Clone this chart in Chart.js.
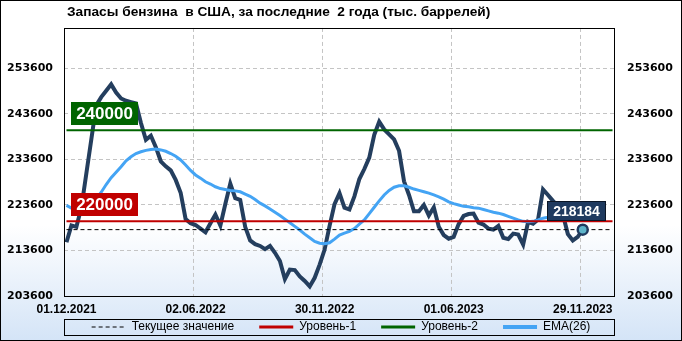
<!DOCTYPE html>
<html><head><meta charset="utf-8">
<script src="https://cdn.jsdelivr.net/npm/chart.js@4"></script>
<style>html,body{margin:0;padding:0;background:#fff}canvas{display:block}</style>
</head><body>
<canvas id="c" width="682" height="341"></canvas>
<script>
const titleText = 'Запасы бензина  в США, за последние  2 года (тыс. баррелей)';
const tickLabels = ['01.12.2021', '02.06.2022', '30.11.2022', '01.06.2023', '29.11.2023'];
const tickIndexes = [0, 26, 52, 78, 104];
const slotCount = 111;
const yTicks = [203600, 213600, 223600, 233600, 243600, 253600];
const seriesNames = ['Текущее значение', 'Уровень-1', 'Уровень-2', 'EMA(26)'];
const level1 = 220000;
const level2 = 240000;
const stocks = [
  215400, 219100, 218800, 223000, 230500, 238000, 245500, 247300, 248700, 250100,
  248300, 247000, 246500, 246200, 245900, 241600, 237900, 238800, 236300, 233200,
  232100, 231200, 229100, 226300, 220500, 219600, 219200, 218400, 217600, 219600,
  221500, 219100, 223800, 228300, 225100, 224700, 218800, 215800, 215000, 214600,
  213900, 214600, 213100, 211300, 207300, 209400, 209300, 207900, 206900, 205700,
  207600, 210500, 213800, 219000, 223800, 226200, 223000, 222600, 225500, 229300,
  231500, 234000, 239000, 241900, 240200, 239100, 238000, 235500, 228800, 225800,
  222200, 222200, 223600, 221300, 223100, 218800, 217000, 216200, 216600, 219400,
  221200, 221600, 221700, 219700, 219300, 218400, 218200, 219000, 216400, 216100,
  217300, 217100, 214900, 219900, 219500, 220400, 227000, 225800, 224500, 223300,
  221500, 217200, 215800, 216600, 218184
];
const ema26 = [
  223500, 222900, 222600, 222600, 223000, 223800, 225000, 226400, 228100, 229600,
  230800, 232000, 233300, 234200, 234900, 235300, 235600, 235800, 235900, 235700,
  235400, 234900, 234300, 233500, 232400, 231200, 230200, 229500, 228700, 228200,
  227600, 227200, 227000, 226800, 226700, 226500, 226000, 225500, 224800, 224000,
  223400, 222700, 222000, 221300, 220500, 219700, 218900, 218100, 217200, 216400,
  215600, 215200, 215100, 215300, 216100, 217000, 217400, 217800, 218400, 219400,
  220300, 221700, 223100, 224500, 225800, 226800, 227500, 227800, 227800, 227500,
  227100, 226800, 226500, 226200, 225800, 225400, 224900, 224300, 223900, 223600,
  223300, 223200, 223000, 222900, 222600, 222300, 222000, 221800, 221500, 221100,
  220700, 220300, 220000, 219900, 220000, 220300, 220700, 220900, 221000, 221100,
  221100, 221000, 220800, 220700, 220600
];

const categories = Array.from({length: slotCount}, (_, i) => i);
const lastIndex = stocks.length - 1;
const currentValue = stocks[lastIndex];
const Y_MIN = 203600, Y_MAX = 262500;

const COL_MAIN = '#243e5e', COL_EMA = '#44a4f4', COL_RED = '#c00000', COL_GREEN = '#006400';

const legendStyles = [
  {color: '#000000', width: 1, dash: [4, 3]},
  {color: COL_RED, width: 3, dash: []},
  {color: COL_GREEN, width: 3, dash: []},
  {color: COL_EMA, width: 4, dash: []}
];

const bgPlugin = {
  id: 'bg',
  beforeDraw(chart) {
    const ctx = chart.ctx, w = chart.width, h = chart.height;
    const g = ctx.createLinearGradient(0, 0, 0, h);
    g.addColorStop(0, '#ffffff');
    g.addColorStop(0.66, '#ffffff');
    g.addColorStop(1, '#d4e4f7');
    ctx.save();
    ctx.fillStyle = g;
    ctx.fillRect(0, 0, w, h);
    ctx.restore();
  },
  afterLayout(chart) {
    if (chart.titleBlock) { chart.titleBlock.left = 67; chart.titleBlock.right = chart.width; }
    if (chart.legend) {
      const p = chart.options.plugins.legend.labels.padding;
      chart.legend.top = 327 - p - 6;
    }
  },
  afterDatasetsDraw(chart) {
    const ctx = chart.ctx, a = chart.chartArea, ys = chart.scales.y;
    ctx.save();
    ctx.strokeStyle = '#000';
    ctx.lineWidth = 1;
    ctx.strokeRect(Math.round(a.left) + 0.5, Math.round(a.top) + 0.5, Math.round(a.right - a.left) - 1, Math.round(a.bottom - a.top));
    const drawBox = (text, font, bg, border, x, yBottom, h, padX, alignRight) => {
      ctx.font = font;
      const tw = ctx.measureText(text).width;
      const w = Math.round(tw + padX * 2);
      const left = alignRight ? Math.round(x - w) : Math.round(x);
      const top = Math.round(yBottom - h);
      ctx.fillStyle = bg;
      ctx.fillRect(left, top, w, h);
      if (border) { ctx.strokeStyle = border; ctx.lineWidth = 1; ctx.strokeRect(left + 0.5, top + 0.5, w - 1, h - 1); }
      ctx.fillStyle = '#ffffff';
      ctx.textAlign = 'center';
      ctx.textBaseline = 'middle';
      ctx.fillText(text, left + w / 2, top + h / 2 + 1);
    };
    drawBox(String(level2), 'bold 17px "Liberation Sans"', COL_GREEN, null, a.left + 7, ys.getPixelForValue(level2) - 5, 23, 5, false);
    drawBox(String(level1), 'bold 17px "Liberation Sans"', COL_RED, null, a.left + 7, ys.getPixelForValue(level1) - 5, 23, 5, false);
    drawBox(String(currentValue), 'bold 14px "Liberation Sans"', '#1f3a5f', '#0b1626', a.right - 9, ys.getPixelForValue(currentValue) - 9, 20, 6, true);
    ctx.restore();
  },
  afterDraw(chart) {
    const ctx = chart.ctx, a = chart.chartArea;
    ctx.save();
    ctx.strokeStyle = '#000';
    ctx.lineWidth = 1;
    ctx.strokeRect(Math.round(a.left) + 0.5, 319.5, Math.round(a.right - a.left) - 1, 16);
    ctx.strokeRect(0.5, 0.5, chart.width - 1, chart.height - 1);
    ctx.restore();
  }
};

const yTickFont = {family: 'DejaVu Sans', size: 11, weight: 'bold'};

new Chart(document.getElementById('c'), {
  type: 'line',
  plugins: [bgPlugin],
  data: {
    labels: categories,
    datasets: [
      {label: 'marker', data: [{x: lastIndex, y: currentValue}], showLine: false, pointRadius: 5, pointHoverRadius: 5,
       pointBackgroundColor: '#5db4c9', pointBorderColor: '#1f3a5f', pointBorderWidth: 2.5},
      {label: seriesNames[0], data: [{x: 0, y: currentValue}, {x: slotCount - 1, y: currentValue}], borderColor: '#000', borderWidth: 1, borderDash: [4, 3], pointRadius: 0},
      {label: seriesNames[1], data: [{x: 0, y: level1}, {x: slotCount - 1, y: level1}], borderColor: COL_RED, borderWidth: 2, pointRadius: 0},
      {label: seriesNames[2], data: [{x: 0, y: level2}, {x: slotCount - 1, y: level2}], borderColor: COL_GREEN, borderWidth: 2, pointRadius: 0},
      {label: seriesNames[3], data: ema26, borderColor: COL_EMA, borderWidth: 3, pointRadius: 0, tension: 0},
      {label: 'stocks', data: stocks, borderColor: COL_MAIN, borderWidth: 4, pointRadius: 0, tension: 0}
    ]
  },
  options: {
    responsive: false,
    animation: false,
    devicePixelRatio: 1,
    layout: {padding: 0},
    events: [],
    scales: {
      x: {
        type: 'category', offset: true,
        grid: {offset: true, drawTicks: false, lineWidth: 1,
               color: c => tickIndexes.includes(c.index) ? '#c4c4c4' : 'rgba(0,0,0,0)'},
        border: {display: false, dash: [4, 3]},
        ticks: {autoSkip: false, maxRotation: 0, minRotation: 0, padding: 6, color: '#000',
                font: {family: 'Liberation Sans', size: 12, weight: 'bold'},
                callback: (v, i) => { const k = tickIndexes.indexOf(i); return k >= 0 ? tickLabels[k] : ''; }},
        afterFit: s => { s.height = 25; }
      },
      y: {
        position: 'left', min: Y_MIN, max: Y_MAX,
        afterBuildTicks: s => { s.ticks = yTicks.map(v => ({value: v})); },
        grid: {drawTicks: false, lineWidth: 1,
               color: c => (c.tick && c.tick.value === yTicks[0]) ? 'rgba(0,0,0,0)' : '#c4c4c4'},
        border: {display: false, dash: [4, 3]},
        ticks: {padding: 11, color: '#000', font: yTickFont, callback: v => String(v)},
        afterFit: s => { s.width = 64; }
      },
      y2: {
        position: 'right', min: Y_MIN, max: Y_MAX,
        afterBuildTicks: s => { s.ticks = yTicks.map(v => ({value: v})); },
        grid: {display: false, drawTicks: false},
        border: {display: false},
        ticks: {padding: 12, color: '#000', font: yTickFont, callback: v => String(v)},
        afterFit: s => { s.width = 67; }
      }
    },
    plugins: {
      tooltip: {enabled: false},
      title: {display: true, text: titleText, align: 'start', color: '#000',
              font: {family: 'Liberation Sans', size: 13.7, weight: 'bold'}, padding: {top: 4, bottom: 7.5}},
      legend: {
        position: 'bottom', maxHeight: 20,
        labels: {
          usePointStyle: true, pointStyleWidth: 34, padding: 25, color: '#000',
          font: {family: 'Liberation Sans', size: 12},
          generateLabels: () => seriesNames.map((name, i) => ({
            text: name, fillStyle: legendStyles[i].color, strokeStyle: legendStyles[i].color,
            lineWidth: legendStyles[i].width, lineDash: legendStyles[i].dash, pointStyle: 'line',
            hidden: false, datasetIndex: i + 1, fontColor: '#000'
          }))
        }
      }
    }
  }
});
</script>
</body></html>
